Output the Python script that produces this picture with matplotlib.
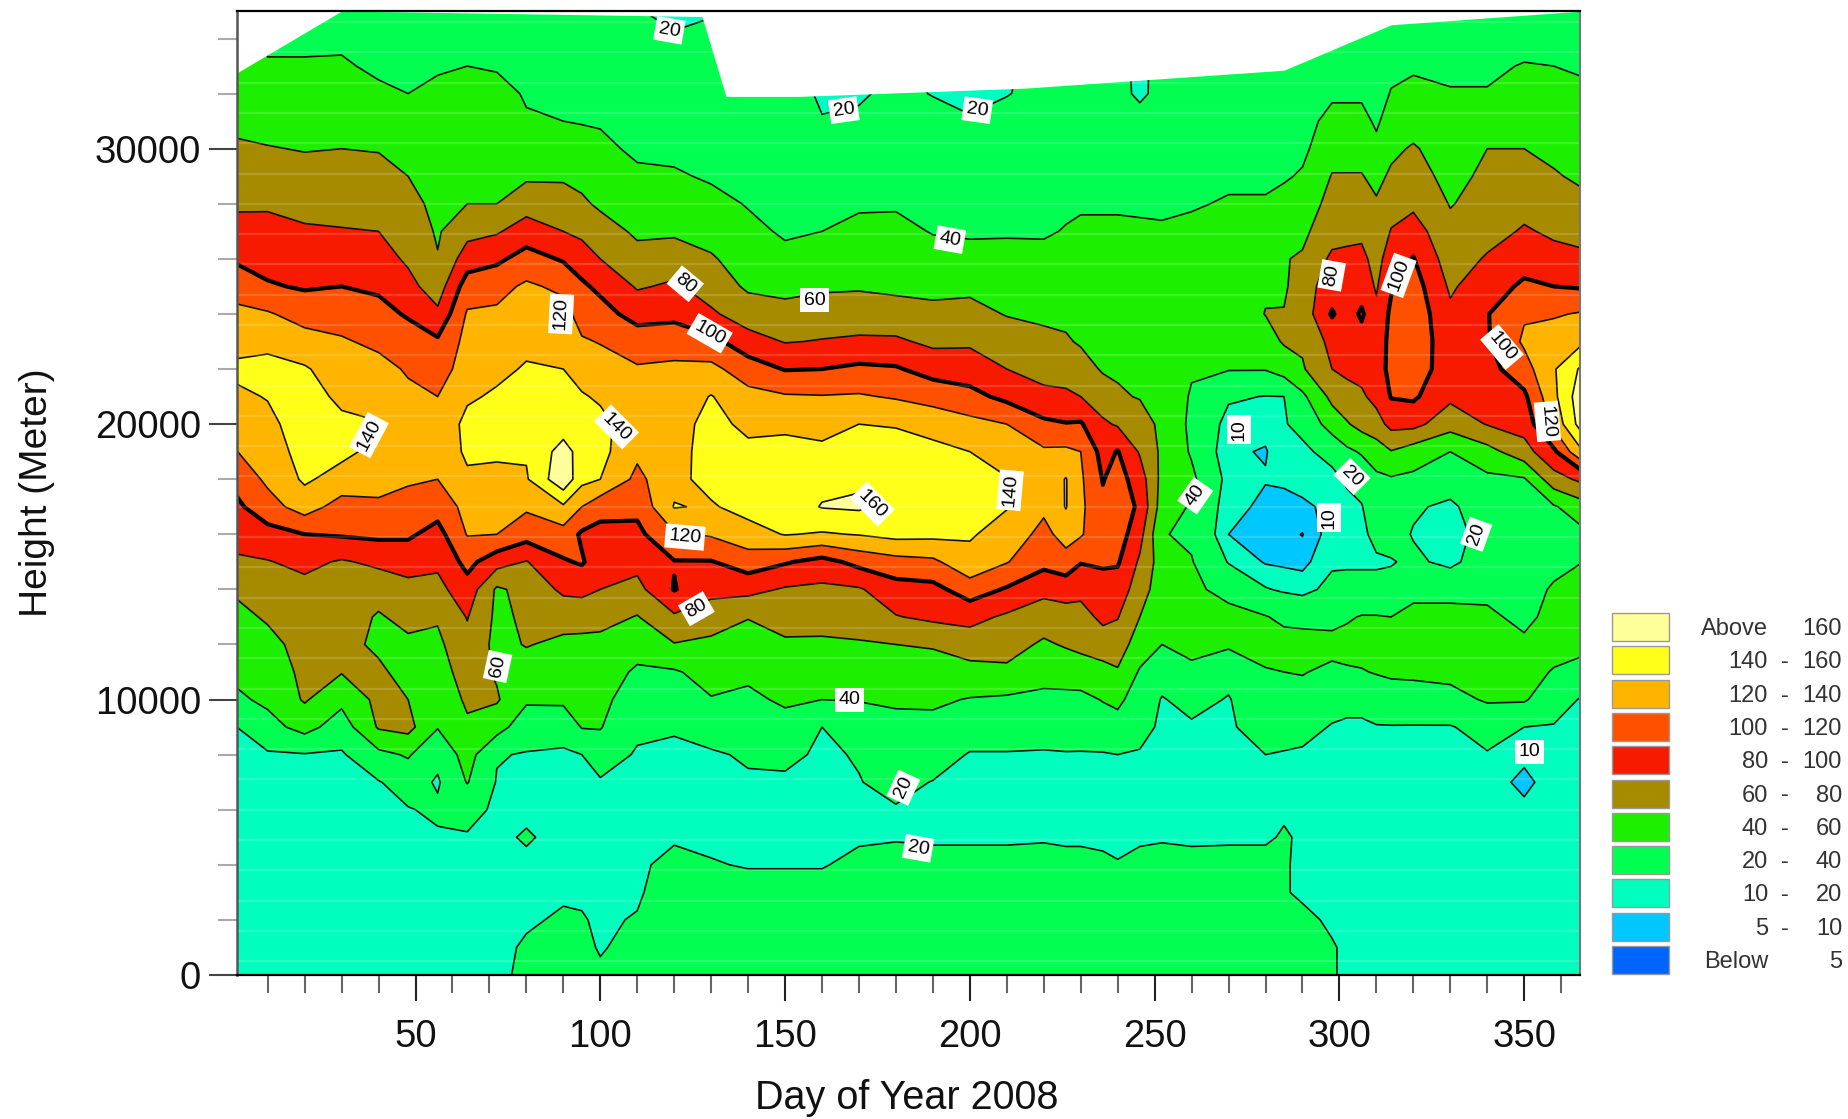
import numpy as np
import matplotlib
matplotlib.use("Agg")
import matplotlib.pyplot as plt
from matplotlib.patches import Rectangle

plt.rcParams["font.family"] = ["Liberation Sans", "DejaVu Sans"]

W, H = 1848, 1119

days = [1, 10, 20, 30, 40, 48, 56, 64, 72, 80, 90, 95, 100, 110, 120, 130, 140, 150, 160, 170,
        180, 190, 200, 210, 220, 226, 230, 236, 240, 246, 252, 260, 270, 280, 285, 290, 298, 302, 306,
        310, 314, 320, 330, 340, 350, 358, 366]
heights = [h * 1000 for h in range(36)]

# one profile per day, from 0 m to 35000 m in steps of 1000 m
z_d002 = [12,12,12,13,13,14,14,15,16,19, 36,44,50,55,62,77,87,95,105,119, 128,136,144,133,125,112,98,87,77,69, 62,57,52,48,46,45]
z_d010 = [13,13,13,14,14,15,16,17,18,33, 44,50,55,62,70,79,93,112,124,129, 135,141,146,135,122,102,93,85,78,70, 61,53,47,41,38,37]
z_d020 = [13,13,14,14,14,15,16,17,19,47, 62,64,66,70,74,85,100,129,143,148, 150,148,142,128,112,98,90,82,75,67, 59,53,47,41,38,36]
z_d030 = [14,14,14,15,15,16,16,17,18,30, 45,61,65,70,74,78,102,112,132,145, 144,136,130,122,112,100,90,81,74,67, 60,53,47,42,37,35]
z_d040 = [14,14,15,15,16,16,17,19,35,62, 65,63,57,58,68,84,104,118,124,134, 141,132,126,116,106,97,88,80,73,66, 59,51,43,37,34,33]
z_d048 = [15,15,16,16,16,17,19,28,42,66, 60,54,56,66,74,88,103,114,122,126, 128,124,118,109,98,86,77,71,66,60, 54,47,40,37,34,33]
z_d056 = [15,15,16,16,17,18,23,18,25,41, 47,52,56,62,74,84,93,108,120,124, 124,120,110,103,84,70,61,58,55,52, 49,46,42,39,35,33]
z_d064 = [15,15,16,16,17,19,24,41,48,57, 63,68,74,81,92,106,121,126,136,144, 146,137,130,126,122,110,90,74,60,57, 54,50,46,40,36,34]
z_d072 = [16,16,16,17,17,18,18,19,21,48, 62,58,55,56,57,88,120,128,135,143, 147,143,135,128,123,114,96,78,60,57, 54,51,47,38,35,33]
z_d080 = [24,22,18,17,18,21,18,18,19,28, 43,52,61,63,66,79,108,123,138,142, 146,148,142,135,128,123,108,89,72,57, 50,42,38,36,34,33]
z_d090 = [26,25,22,18,17,17,17,18,18,26, 44,50,56,67,84,98,112,137,175,168, 150,147,140,134,127,116,98,80,70,57, 49,40,38,36,34,32]
z_d095 = [24,23,21,18,17,17,17,18,20,41, 46,51,56,66,86,102,97,120,146,152, 152,142,131,122,112,103,91,75,63,55, 47,39,37,35,33,32]
z_d100 = [22,19,18,17,17,17,17,18,30,41, 45,50,54,67,80,89,94,107,140,146, 146,137,128,119,107,96,80,68,57,51, 45,38,36,34,33,31]
z_d110 = [26,24,21,18,17,17,17,18,18,24, 30,37,48,59,74,86,95,105,115,124, 128,126,122,110,93,78,66,57,52,44, 36,34,33,32,31,21]
z_d120 = [30,30,30,29,25,18,17,18,18,21, 29,38,59,77,101,99,118,141,135,131, 130,128,124,111,95,83,70,57,50,42, 36,34,32,31,22,15]
z_d130 = [29,29,28,26,21,17,17,18,18,28, 39,47,56,69,86,99,122,138,146,150, 148,141,125,106,83,71,62,53,45,38, 35,33,31,30,29,17]
z_d140 = [30,30,29,26,19,17,17,18,22,30, 36,44,50,61,86,110,132,147,150,146, 134,126,110,88,70,57,51,44,39,36, 33,31,30,29,28,27]
z_d150 = [30,30,29,26,19,17,17,18,23,33, 43,50,57,68,78,102,141,150,152,148, 135,122,99,79,66,55,44,38,35,33, 32,31,30,29,28,27]
z_d160 = [30,30,29,26,19,17,17,17,18,20, 40,48,57,67,76,93,138,161,155,145, 132,121,100,81,70,57,49,40,37,35, 28,21,17,16,16,16]
z_d170 = [30,30,30,30,24,18,18,19.5,21,28, 41,47,58,70,78,106,141,163,157,148, 140,122,104,83,70,58,51,44,38,35, 30,24,17,16,16,16]
z_d180 = [30,30,30,30,25,19,19,24,30,36, 42,50,60,79,92,113,146,152,150,146, 139,118,102,83,68,56,51,45,38,35, 33,31,26,24,24,24]
z_d190 = [30,30,30,30,25,18,18,19.5,27,35, 43,50,62,84,94,116,145,152,150,146, 132,113,92,76,64,56,47,39,36,34, 32,28,19,17,17,17]
z_d200 = [30,30,30,30,25,18,18,18,19,28, 39,53,70,86,110,134,142,145,145,140, 126,106,90,77,66,56,45,38,35,33, 28,21,17,16,16,16]
z_d210 = [30,30,30,30,25,18,18,18,19,28, 37,56,68,77,98,121,132,141,141,131, 120,95,80,70,59,54,46,38,35,33, 32,28,19,17,17,17]
z_d220 = [30,30,30,30,24,19,18,18,18.5,27, 36,46,57,70,85,106,114,124,127,123, 104,85,73,64,57,50,45,38,35,33, 32,30,27,26,26,26]
z_d226 = [30,30,30,30,24,18,18,18,19,28, 36,47,62,72,88,112,128,141,141,124, 101,83,73,62,56,51,47,41,37,35, 33,31,30,28,28,28]
z_d230 = [30,30,30,29,24,18,18,18,19,27, 35,50,65,72,86,101,122,124,123,120, 102,80,68,58,53,49,46,43,38,35, 33,31,30,28,28,28]
z_d236 = [30,30,30,30,22,18,18,18,19,30, 41,54,69,85,94,102,106,104,99,93, 83,70,58,55,53,51,47,43,38,35, 33,32,30,28,28,28]
z_d240 = [30,30,30,29,20.5,18,18,18,20,33, 44,58,70,81,91,102,110,110,108,101, 78,62,58,55,53,51,47,43,38,35, 33,32,30,28,28,28]
z_d246 = [30,30,30,30,24,18,18,18,19,24, 31,38,50,60,70,77,87,97,90,78, 68,59,55,53,51,49,46,42,38,35, 33,32,14,14,14,14]
z_d252 = [30,30,30,30,24,19,18,18,18,18, 19,27,40,45,48,50,41,50,54,56, 56,55,54,52,50,48,46,42,37,35, 33,32,30,29,29,29]
z_d260 = [30,30,30,30,24,18,18,18,18,18, 25,37,44,46,44,41,37,38,44,38, 36,38,42,48,50,50,48,45,38,36, 34,33,30,29,29,29]
z_d270 = [30,30,30,30,25,18,18,18,18,18, 19,25,43,46,34,19,10,13,15,11, 15,22,41,46,49,51,52,52,42,36, 33,31,29,28,28,28]
z_d280 = [30,30,30,30,25,18,18,18,20,27, 33,39,45,41,21,9,8,8,10.5,9.5, 12,19.5,41,52,60.5,58,56,53,42,36, 33,31,29,28,28,28]
z_d285 = [30,30,30,21,21,21.5,18,18,19,26, 33,40,47,36,18,8,6.5,8,11,14, 19,20,48,62,61,57,59,55,46,38, 34,32,29,28,28,28]
z_d290 = [28,28,23,18,18,18,18,18,18,25, 33,41,48,34,16,7,4.8,8.5,13,17, 24,36,58,63,68,71,62,56,50,42, 36,33,30,28,28,28]
z_d298 = [21,21,18,18,18,18,18,18,18,19, 26,36,46,34,24,18,13,12,16,25, 49,65,80,86,102,90,84,72,66,61, 53,46,37,33,30,29]
z_d302 = [18,18,18,18,18,18,18,18,18,18, 24,38,46,38,25,18,16,16,22,36, 58,73,84,90,90,90,85,74,67,61, 53,46,37,33,30,29]
z_d306 = [18,18,18,18,18,18,18,18,18,18, 24,39,46,41,25,18,17,19,27,42, 67,77,86,92,103,91,85,76,69,61, 53,46,37,33,30,29]
z_d310 = [18,18,18,18,18,18,18,18,18,19, 30,41,46,41,25,18,24,32,36,50, 72,86,90,88,84,78,73,68,62,55, 45,37,33,31,30,29]
z_d314 = [18,18,18,18,18,18,18,18,18,19, 34,42,46,40,25,19,26,32,38,59, 86,101,106,106,104,98,90,81,73,63, 56,49,41,36,33,30]
z_d320 = [18,18,18,18,18,18,18,18,18,19, 33,43,46,44,36,23,19,22,36,50, 86,103,112,114,113,109,101,89,76,68, 62,52,44,38,34,31]
z_d330 = [18,18,18,18,18,18,18,18,18,19, 34,45,50,46,34,16,12,17,28,40, 68,84,88,87,84,77,70,65,59,54, 50,46,41,37,33,30]
z_d340 = [18,18,18,18,18,18,18,18,19,26, 42,47,47,43,36,30,28,30,36,53, 81,88,93,98,99,92,82,73,67,64, 60,50,41,37,33,30]
z_d350 = [18,18,18,18,17,16,14,5.5,14,20, 42,45,43,36,33,28,28,30,38,72, 88,96,112,123,118,103,93,82,74,68, 60,55,48,41,34,31]
z_d358 = [18,18,18,18,18,18,18,18,18,19, 28,39,45,45,42,35,31,38,72,96, 125,135,138,130,118,100,86,77,70,62, 55,49,44,40,35,33]
z_d365 = [17,17,17,17,17,17,17,17,17,17, 18,33,45,48,45,40,36,52,85,140, 172,175,165,138,122,98,83,75,65,56, 51,47,43,38,34,30]

# upper edge of the sounded data, white above it
top_days = [1, 30, 127.5, 134, 154, 215, 285, 314, 366]
top_heights = [32700, 35000, 34800, 31900, 31900, 32200, 32850, 34500, 35000]

levels = [0, 5, 10, 20, 40, 60, 80, 100, 120, 140, 160, 200]
colors = ["#0064FF", "#00C8FF", "#00FFBE", "#00FF50", "#1CF000", "#A68A00",
          "#F81A00", "#FF5000", "#FFB400", "#FFFF1A", "#FFFF99"]

legend_low = ["Above", "140", "120", "100", "80", "60", "40", "20", "10", "5", "Below"]
legend_high = ["160", "160", "140", "120", "100", "80", "60", "40", "20", "10", "5"]

label_days = [118.7, 165.9, 202, 194.6, 158, 123, 129.6, 89.4, 37.4, 104.4, 173.6, 210.9, 122.9, 126,
              72.2, 167.5, 182, 186, 261, 272.7, 297.3, 303.4, 337, 297.9, 316, 344, 356.3, 351.5]
label_heights = [34300, 31400, 31400, 26700, 24500, 25100, 23300, 24000, 19600, 19900, 17100, 17600,
                 15900, 13300, 11200, 10000, 6800, 4600, 17400, 19800, 16600, 18100, 16000, 25400,
                 25400, 22800, 20100, 8100]
label_text = ["20", "20", "20", "40", "60", "80", "100", "120", "140", "140", "160", "140",
              "120", "80", "60", "40", "20", "20", "40", "10", "10", "20", "20", "80",
              "100", "100", "120", "10"]
label_rot = [-10, 8, -8, -10, 0, -40, -30, 87, 62, -45, -45, 85,
             -5, 30, 78, 0, 65, -10, 55, 90, 90, -45, 70, 80,
             70, -50, -85, 0]

Z = np.column_stack([z_d002, z_d010, z_d020, z_d030, z_d040, z_d048, z_d056, z_d064, z_d072, z_d080,
                     z_d090, z_d095, z_d100, z_d110, z_d120, z_d130, z_d140, z_d150, z_d160, z_d170,
                     z_d180, z_d190, z_d200, z_d210, z_d220, z_d226, z_d230, z_d236, z_d240, z_d246,
                     z_d252, z_d260, z_d270, z_d280, z_d285, z_d290, z_d298, z_d302, z_d306, z_d310,
                     z_d314, z_d320, z_d330, z_d340, z_d350, z_d358, z_d365])

fig = plt.figure(figsize=(W / 100, H / 100), dpi=100)
ax = fig.add_axes([237 / W, (H - 975) / H, 1343 / W, 964 / H])

ax.contourf(days, heights, Z, levels=levels, colors=colors, zorder=1)
ax.contour(days, heights, Z, levels=[5, 10, 20, 40, 60, 80, 120, 140, 160],
           colors="#101010", linewidths=1.2, zorder=2)
ax.contour(days, heights, Z, levels=[100], colors="black", linewidths=3.0, zorder=2)

# the faint scan stripes running across the filled area
ax.hlines(np.arange(500, 35000, 1100), 1, 366, colors="white", alpha=0.16, linewidth=1.6, zorder=3)
ax.fill_between(top_days, top_heights, 36000, color="white", linewidth=0, zorder=4)

for d, h, s, r in zip(label_days, label_heights, label_text, label_rot):
    ax.text(d, h, s, rotation=r, ha="center", va="center", fontsize=14, color="black", zorder=6,
            rotation_mode="anchor",
            bbox=dict(facecolor="white", edgecolor="none", pad=2.5))

ax.set_xlim(1.7, 365.1)
ax.set_ylim(0, 35000)
ax.set_xticks(range(50, 351, 50))
ax.set_xticks(range(10, 361, 10), minor=True)
ax.set_yticks([0, 10000, 20000, 30000])
ax.set_yticks(range(2000, 35000, 2000), minor=True)
ax.tick_params(axis="x", which="major", length=19, width=1.5, color="#222222", labelsize=27.5, pad=13)
ax.tick_params(axis="x", which="minor", length=13, width=1.5, color="#666666")
ax.tick_params(axis="y", which="major", length=20, width=1.5, color="#444444", labelsize=27.5, pad=6)
ax.tick_params(axis="y", which="minor", length=14, width=1.5, color="#aaaaaa")
ax.tick_params(labelcolor="#111111")
for side, col, lw in [("top", "black", 1.6), ("bottom", "black", 1.6), ("left", "#555555", 1.8), ("right", "#777777", 1.5)]:
    ax.spines[side].set_color(col)
    ax.spines[side].set_linewidth(lw)
    ax.spines[side].set_zorder(7)

fig.text(37 / W, 1 - 493 / H, "Height (Meter)", rotation=90, ha="center", va="center", fontsize=28, color="#111111")
fig.text(907 / W, 1 - 1098 / H, "Day of Year 2008", ha="center", va="center", fontsize=28.5, color="#111111")

# legend placed in figure pixels
leg = fig.add_axes([0, 0, 1, 1], zorder=10)
leg.set_xlim(0, W)
leg.set_ylim(H, 0)
leg.axis("off")
leg.patch.set_alpha(0)
for i, (low, high, col) in enumerate(zip(legend_low, legend_high, colors[::-1])):
    y = 613 + i * 33.3
    leg.add_patch(Rectangle((1612, y), 57, 28, facecolor=col, edgecolor="#999999", linewidth=1.0))
    leg.text(1768, y + 16, low, ha="right", va="center", fontsize=17, color="#333333")
    if low not in ("Above", "Below"):
        leg.text(1785, y + 16, "-", ha="center", va="center", fontsize=17, color="#333333")
    leg.text(1842, y + 16, high, ha="right", va="center", fontsize=17, color="#333333")

fig.savefig("out.png", dpi=100, facecolor="white")
